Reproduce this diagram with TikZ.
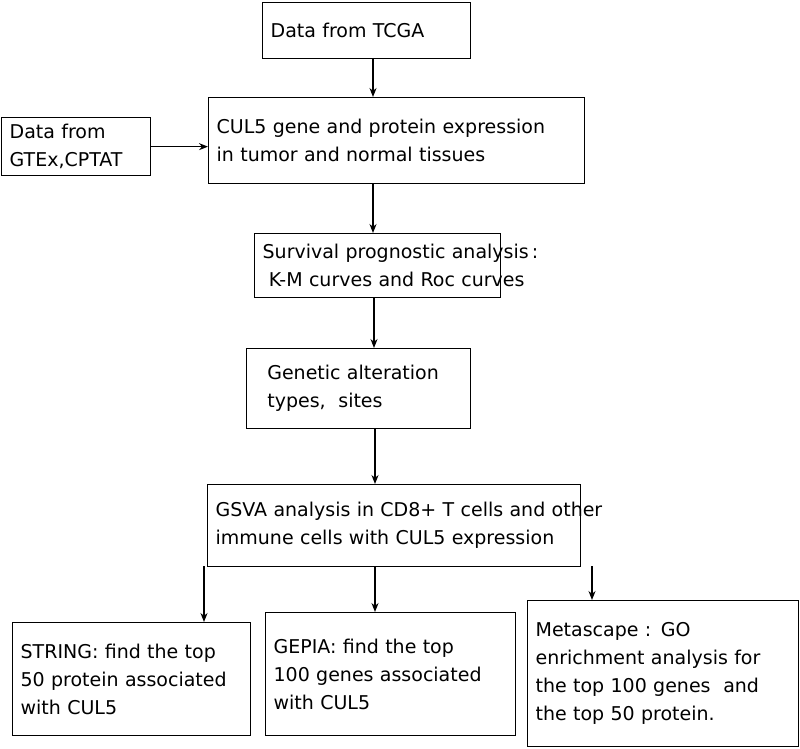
\documentclass[tikz,border=0pt]{standalone}
\usepackage{fontspec}
\setmainfont{DejaVu Sans}
\usetikzlibrary{arrows.meta}
\begin{document}
\begin{tikzpicture}[x=1pt,y=-1pt,
  box/.style={draw,line width=1.3pt,rectangle,align=left,inner xsep=8pt,inner ysep=0pt,font=\fontsize{19}{28}\selectfont,anchor=north west},
  arr/.style={-{Stealth[length=9pt,width=7pt]},line width=1.3pt}]
\useasboundingbox (0,0) rectangle (800,749);
\newcommand\mybox[6]{\node[box,text width=#4-16pt,minimum height=#5] (#1) at (#2,#3) {#6};}
\newcommand\myln[1]{\mbox{#1}}
\mybox{tcga}{262}{2}{208}{56}{\myln{Data from TCGA}}
\mybox{gtex}{1}{117}{149}{58}{\myln{Data from}\\\myln{GTEx,CPTAT}}
\mybox{cul}{208}{97}{376}{86}{\myln{CUL5 gene and protein expression}\\\myln{in tumor and normal tissues}}
\mybox{surv}{254}{233}{246}{64}{\myln{Survival prognostic analysis\,:}\\\myln{\ K-M curves and Roc curves}}
\mybox{gen}{246}{348}{224}{80}{\myln{\ \ Genetic alteration}\\\myln{\ \ types,\ \ sites}}
\mybox{gsva}{207}{484}{373}{82}{\myln{GSVA analysis in CD8+ T cells and other}\\\myln{immune cells with CUL5 expression}}
\mybox{str}{12}{622}{238}{113}{\myln{STRING: find the top}\\\myln{50 protein associated}\\\myln{with CUL5}}
\mybox{gep}{265}{612}{250}{123}{\myln{GEPIA: find the top}\\\myln{100 genes associated}\\\myln{with CUL5}}
\mybox{meta}{527}{600}{271}{146}{\myln{Metascape : GO}\\\myln{enrichment analysis for}\\\myln{the top 100 genes\ \ and}\\\myln{the top 50 protein.}}
\draw[arr] (373,58) -- (373,97);
\draw[arr] (gtex.east) -- (gtex.east -| cul.west);
\draw[arr] (373,183) -- (373,233);
\draw[arr] (374,297) -- (374,348);
\draw[arr] (375,428) -- (375,484);
\draw[arr] (204,566) -- (204,622);
\draw[arr] (375,566) -- (375,612);
\draw[arr] (592,566) -- (592,600);
\end{tikzpicture}
\end{document}
